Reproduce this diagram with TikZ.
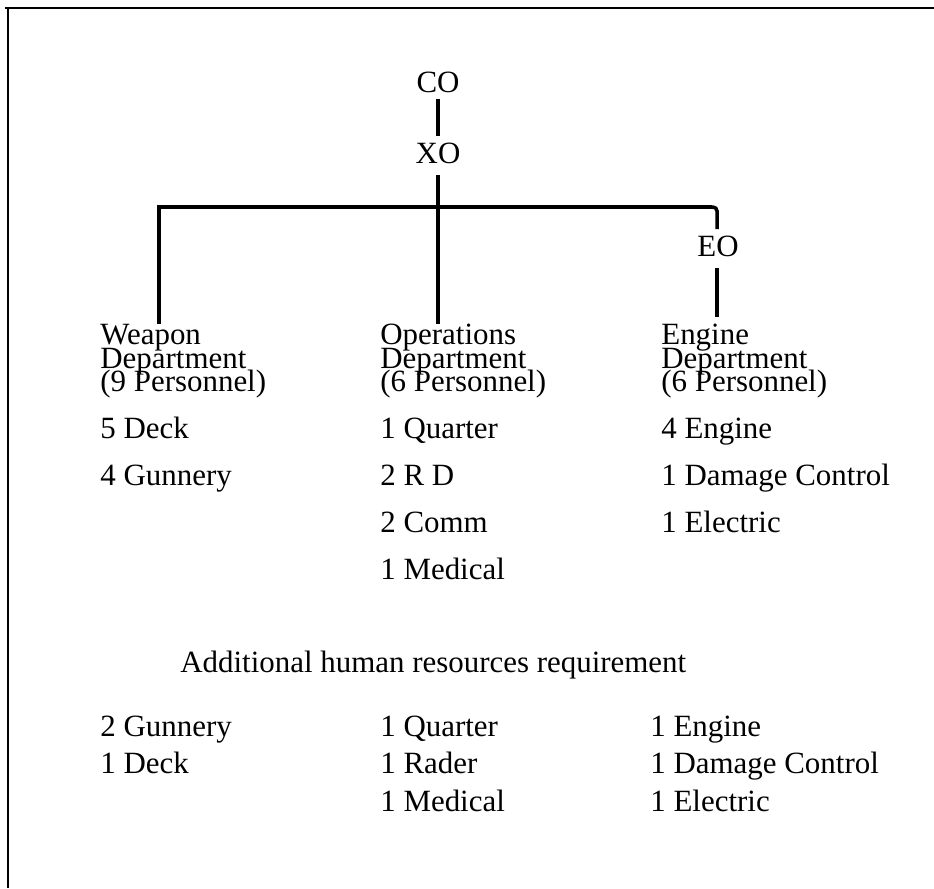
\documentclass[tikz,border=0pt]{standalone}
\usepackage{fontspec}
\setmainfont{Liberation Serif}
\usetikzlibrary{positioning}

\newcommand{\chartfont}{\fontsize{17.6pt}{21pt}\selectfont}
\newcommand{\deptfont}{\fontsize{17.6pt}{13.4pt}\selectfont\lineskiplimit=-\maxdimen}

\tikzset{
  chief/.style={inner sep=3.5pt, font=\chartfont},
  dept/.style={anchor=north west, inner sep=0pt, align=left, font=\deptfont},
  item/.style={anchor=base west, inner sep=0pt, font=\chartfont},
  link/.style={line width=2pt},
  frame/.style={line width=1.3pt}
}

\begin{document}
\begin{tikzpicture}[x=0.2mm,y=-0.2mm]
\useasboundingbox (0,0) rectangle (934,888);

%Draw frame
\draw[frame] (5,8) -- (934,8);
\draw[frame] (8,8) -- (8,888);

%Draw officers
\node[chief] (co) at (438,82) {CO};
\node[chief] (xo) at (438,153) {XO};
\node[chief] (eo) at (718,246) {EO};

%Draw departments
\node[dept] (weapon) at (100,324) {Weapon\\Department\\(9 Personnel)};
\node[dept] (operations) at (380,324) {Operations\\Department\\(6 Personnel)};
\node[dept] (engine) at (661,324) {Engine\\Department\\(6 Personnel)};

%Draw personnel lists
\foreach \txt [count=\i] in {5 Deck,4 Gunnery}
  \node[item] (wpn\i) at (100,{438+47*(\i-1)}) {\txt};
\foreach \txt [count=\i] in {1 Quarter,2 R D,2 Comm,1 Medical}
  \node[item] (ops\i) at (380,{438+47*(\i-1)}) {\txt};
\foreach \txt [count=\i] in {4 Engine,1 Damage Control,1 Electric}
  \node[item] (eng\i) at (661,{438+47*(\i-1)}) {\txt};

%Draw additional requirement
\node[item] (extra) at (180,672) {Additional human resources requirement};
\foreach \txt [count=\i] in {2 Gunnery,1 Deck}
  \node[item] (addwpn\i) at (100,{736+37.5*(\i-1)}) {\txt};
\foreach \txt [count=\i] in {1 Quarter,1 Rader,1 Medical}
  \node[item] (addops\i) at (380,{736+37.5*(\i-1)}) {\txt};
\foreach \txt [count=\i] in {1 Engine,1 Damage Control,1 Electric}
  \node[item] (addeng\i) at (650,{736+37.5*(\i-1)}) {\txt};

%Draw chain of command
\coordinate (barL) at (159,207);
\coordinate (barR) at (717,207);
\draw[link] (co) -- (xo);
\draw[link,shorten <=1mm] (xo) -- (xo |- operations.north);
\draw[link] (barL |- weapon.north) -- (barL) -- ([xshift=-1mm]barR);
\draw[link,rounded corners=2.3pt] ([xshift=-2mm]barR) -- (barR) -- (barR |- eo.north);
\draw[link,shorten <=1mm,shorten >=1.5mm] (eo.south -| barR) -- (barR |- engine.north);
\end{tikzpicture}
\end{document}
